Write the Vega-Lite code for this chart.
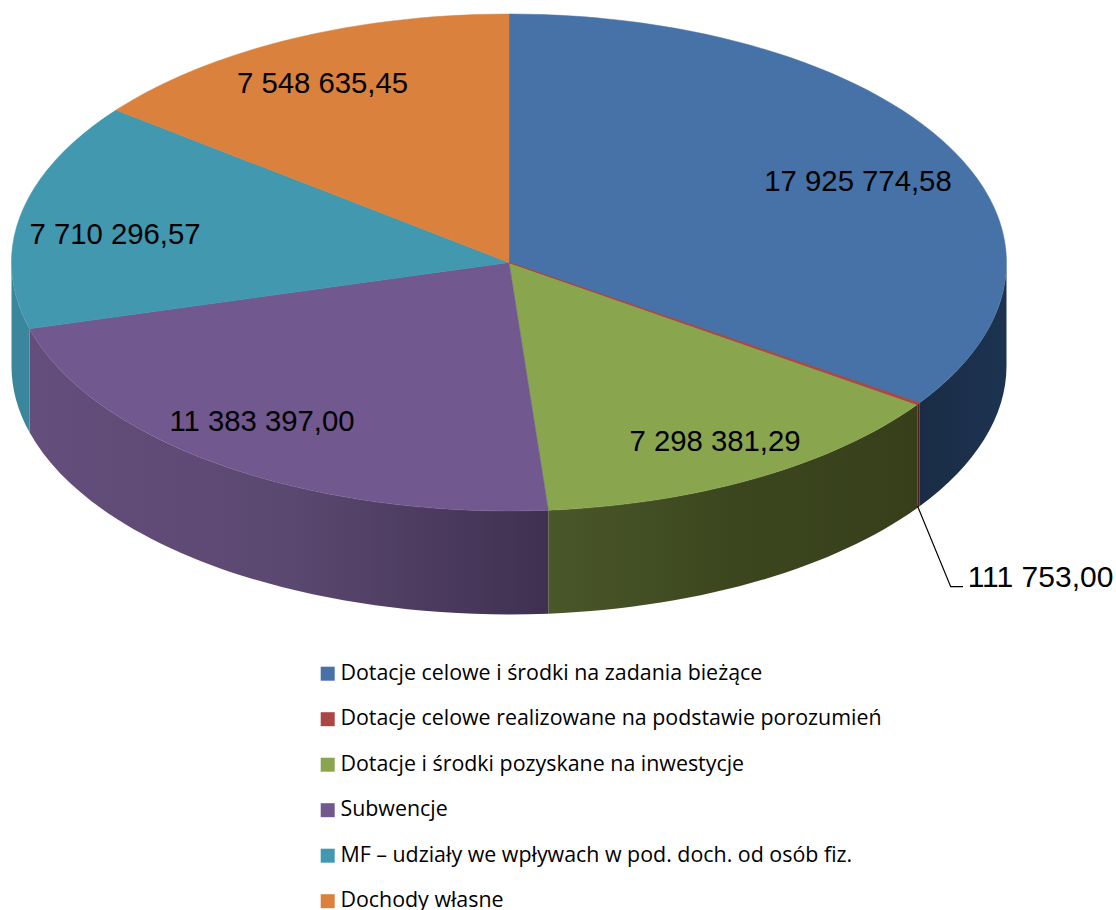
{"$schema":"https://vega.github.io/schema/vega-lite/v6.json","width":1018,"height":525,"autosize":{"type":"none"},"padding":{"left":0,"top":0,"right":98,"bottom":385},"background":"white","config":{"view":{"stroke":null}},
"data":{"values":[
{"name":"Dotacje celowe i środki na zadania bieżące","value":17925774.58,"label":"17 925 774,58"},
{"name":"Dotacje celowe realizowane na podstawie porozumień","value":111753.00,"label":"111 753,00"},
{"name":"Dotacje i środki pozyskane na inwestycje","value":7298381.29,"label":"7 298 381,29"},
{"name":"Subwencje","value":11383397.00,"label":"11 383 397,00"},
{"name":"MF – udziały we wpływach w pod. doch. od osób fiz.","value":7710296.57,"label":"7 710 296,57"},
{"name":"Dochody własne","value":7548635.45,"label":"7 548 635,45"}]},
"layer":[
{"transform":[{"filter":"datum.label === '17 925 774,58'"}],
"mark":{"type":"point","filled":true,"opacity":1,"size":4,"strokeWidth":0,"fill":{"gradient":"linear","x1":0,"y1":0,"x2":1,"y2":0,"stops":[{"offset":0,"color":"#1a2c45"},{"offset":1,"color":"#1c3350"}]}},
"encoding":{"shape":{"value":"M497.5,0A497.5,248.5 0 0 1 410.3,140.5L410.3,244A497.5,248.5 0 0 0 497.5,103.5Z"}}},
{"transform":[{"filter":"datum.label === '111 753,00'"}],
"mark":{"type":"point","filled":true,"opacity":1,"size":4,"strokeWidth":0,"fill":"#4a1c1b"},
"encoding":{"shape":{"value":"M410.3,140.5A497.5,248.5 0 0 1 408.3,142L408.3,245.5A497.5,248.5 0 0 0 410.3,244Z"}}},
{"transform":[{"filter":"datum.label === '7 298 381,29'"}],
"mark":{"type":"point","filled":true,"opacity":1,"size":4,"strokeWidth":0,"fill":{"gradient":"linear","x1":0,"y1":0,"x2":1,"y2":0,"stops":[{"offset":0,"color":"#4a5729"},{"offset":0.5,"color":"#3c461e"},{"offset":1,"color":"#363f1a"}]}},
"encoding":{"shape":{"value":"M408.3,142A497.5,248.5 0 0 1 39.3,247.7L39.3,351.2A497.5,248.5 0 0 0 408.3,245.5Z"}}},
{"transform":[{"filter":"datum.label === '11 383 397,00'"}],
"mark":{"type":"point","filled":true,"opacity":1,"size":4,"strokeWidth":0,"fill":{"gradient":"linear","x1":0,"y1":0,"x2":1,"y2":0,"stops":[{"offset":0,"color":"#644e7c"},{"offset":0.5,"color":"#5b4870"},{"offset":1,"color":"#3f3050"}]}},
"encoding":{"shape":{"value":"M39.3,247.7A497.5,248.5 0 0 1 -479.5,66.3L-479.5,169.8A497.5,248.5 0 0 0 39.3,351.2Z"}}},
{"transform":[{"filter":"datum.label === '7 710 296,57'"}],
"mark":{"type":"point","filled":true,"opacity":1,"size":4,"strokeWidth":0,"fill":"#3a869c"},
"encoding":{"shape":{"value":"M-479.5,66.3A497.5,248.5 0 0 1 -497.5,0L-497.5,103.5A497.5,248.5 0 0 0 -479.5,169.8Z"}}},
{"transform":[{"filter":"datum.label === '17 925 774,58'"}],"mark":{"type":"point","filled":true,"opacity":1,"size":4,"fill":"#4672a7","stroke":"#4672a7","strokeWidth":0.5},"encoding":{"shape":{"value":"M0,0L0,-248.5A497.5,248.5 0 0 1 410.3,140.5Z"}}},
{"transform":[{"filter":"datum.label === '7 298 381,29'"}],"mark":{"type":"point","filled":true,"opacity":1,"size":4,"fill":"#89a54e","stroke":"#89a54e","strokeWidth":0.5},"encoding":{"shape":{"value":"M0,0L408.3,142A497.5,248.5 0 0 1 39.3,247.7Z"}}},
{"transform":[{"filter":"datum.label === '111 753,00'"}],"mark":{"type":"point","filled":true,"opacity":1,"size":4,"fill":"#aa4643","stroke":"#aa4643","strokeWidth":1},"encoding":{"shape":{"value":"M0,0L410.3,140.5A497.5,248.5 0 0 1 408.3,142Z"}}},
{"transform":[{"filter":"datum.label === '11 383 397,00'"}],"mark":{"type":"point","filled":true,"opacity":1,"size":4,"fill":"#71588f","stroke":"#71588f","strokeWidth":0.5},"encoding":{"shape":{"value":"M0,0L39.3,247.7A497.5,248.5 0 0 1 -479.5,66.3Z"}}},
{"transform":[{"filter":"datum.label === '7 710 296,57'"}],"mark":{"type":"point","filled":true,"opacity":1,"size":4,"fill":"#4198af","stroke":"#4198af","strokeWidth":0.5},"encoding":{"shape":{"value":"M0,0L-479.5,66.3A497.5,248.5 0 0 1 -393,-152.4Z"}}},
{"transform":[{"filter":"datum.label === '7 548 635,45'"}],"mark":{"type":"point","filled":true,"opacity":1,"size":4,"fill":"#d9813d","stroke":"#d9813d","strokeWidth":0.5},"encoding":{"shape":{"value":"M0,0L-393,-152.4A497.5,248.5 0 0 1 0,-248.5Z"}}},
{"mark":{"type":"square","opacity":0},
"encoding":{"color":{"field":"name","type":"nominal","title":null,
"scale":{"domain":["Dotacje celowe i środki na zadania bieżące","Dotacje celowe realizowane na podstawie porozumień","Dotacje i środki pozyskane na inwestycje","Subwencje","MF – udziały we wpływach w pod. doch. od osób fiz.","Dochody własne"],
"range":["#4672a7","#aa4643","#89a54e","#71588f","#4198af","#d9813d"]},
"legend":{"orient":"none","legendX":317,"legendY":663,"symbolType":"square","symbolSize":196,"symbolStrokeWidth":0,"symbolOpacity":1,"labelFont":"Open Sans","labelFontSize":21.4,"labelColor":"#000000","rowPadding":22.5,"labelLimit":700,"labelOffset":2,"padding":0}}}},
{"transform":[{"filter":"datum.label === '111 753,00'"}],
"mark":{"type":"point","filled":false,"opacity":1,"size":4,"stroke":"#000000","strokeWidth":1.2,"fill":null},
"encoding":{"shape":{"value":"M408.5,243.5L441.7,324.2L454,324.2"}}},
{"transform":[{"filter":"datum.label === '17 925 774,58'"}],"mark":{"type":"text","font":"Liberation Sans","fontSize":29.3,"color":"#000000","dx":349,"dy":-81},"encoding":{"text":{"field":"label"}}},
{"transform":[{"filter":"datum.label === '111 753,00'"}],"mark":{"type":"text","font":"Liberation Sans","fontSize":30,"color":"#000000","dx":531.5,"dy":315.5},"encoding":{"text":{"field":"label"}}},
{"transform":[{"filter":"datum.label === '7 298 381,29'"}],"mark":{"type":"text","font":"Liberation Sans","fontSize":29.3,"color":"#000000","dx":206,"dy":179},"encoding":{"text":{"field":"label"}}},
{"transform":[{"filter":"datum.label === '11 383 397,00'"}],"mark":{"type":"text","font":"Liberation Sans","fontSize":29.3,"color":"#000000","dx":-247,"dy":159},"encoding":{"text":{"field":"label"}}},
{"transform":[{"filter":"datum.label === '7 710 296,57'"}],"mark":{"type":"text","font":"Liberation Sans","fontSize":29.3,"color":"#000000","dx":-394,"dy":-28},"encoding":{"text":{"field":"label"}}},
{"transform":[{"filter":"datum.label === '7 548 635,45'"}],"mark":{"type":"text","font":"Liberation Sans","fontSize":29.3,"color":"#000000","dx":-186.5,"dy":-179},"encoding":{"text":{"field":"label"}}}
]}
